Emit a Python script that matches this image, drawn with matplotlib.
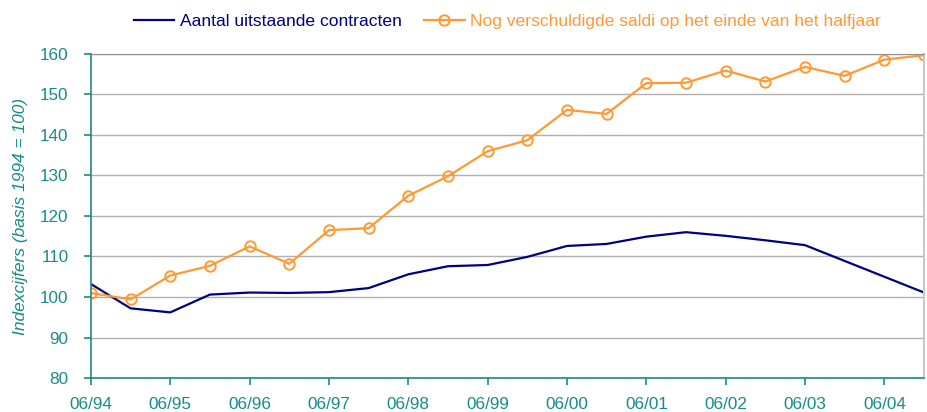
import matplotlib.pyplot as plt
import numpy as np

plt.rcParams['font.family'] = ['Liberation Sans', 'DejaVu Sans']

# half-yearly observations 06/94 .. 12/04
periods = ['06/94', '12/94', '06/95', '12/95', '06/96', '12/96', '06/97', '12/97',
           '06/98', '12/98', '06/99', '12/99', '06/00', '12/00', '06/01', '12/01',
           '06/02', '12/02', '06/03', '12/03', '06/04', '12/04']

contracten = [103.2, 97.2, 96.2, 100.6, 101.1, 101.0, 101.2, 102.2,
              105.6, 107.6, 107.9, 109.9, 112.6, 113.1, 114.9, 116.0,
              115.1, 114.0, 112.8, 108.9, 105.0, 101.1]

saldi = [101.0, 99.4, 105.3, 107.7, 112.5, 108.2, 116.5, 117.0,
         125.0, 129.8, 136.0, 138.7, 146.2, 145.2, 152.8, 152.9,
         155.9, 153.2, 156.8, 154.6, 158.6, 159.7]

teal = '#168b8b'
navy = '#000080'
orange = '#ff9933'

x = np.arange(len(periods))

fig = plt.figure(figsize=(9.28, 4.12), dpi=100)
ax = fig.add_axes([0.098, 0.0825, 0.8977, 0.7865])

ax.plot(x, contracten, color=navy, lw=1.6, label='Aantal uitstaande contracten')
ax.plot(x, saldi, color=orange, lw=1.6, marker='o', ms=7.5, mfc='none', mew=1.4,
        label='Nog verschuldigde saldi op het einde van het halfjaar')

ax.set_xlim(0, len(periods) - 1)
ax.set_ylim(80, 160)
ax.set_yticks(range(80, 161, 10))
ax.set_xticks(x[::2])
ax.set_xticklabels(periods[::2])

ax.grid(axis='y', color='#b0b0b0', lw=1.0)
ax.set_axisbelow(True)

for s in ['left', 'bottom']:
    ax.spines[s].set_color(teal)
    ax.spines[s].set_linewidth(1.2)
ax.spines['top'].set_color('#909090')
ax.spines['right'].set_color('#c8c8c8')
ax.spines['right'].set_linewidth(1.5)

ax.tick_params(colors=teal, labelsize=12.3, length=5, width=1.2)
ax.tick_params(axis='x', pad=8.5)
ax.tick_params(axis='y', pad=11)

ax.set_ylabel('Indexcijfers (basis 1994 = 100)', color=teal, fontsize=12.5,
              style='italic', labelpad=9)

leg = ax.legend(loc='lower center', bbox_to_anchor=(0.5, 1.055), ncol=2,
                frameon=False, fontsize=12.6, handlelength=2.3, columnspacing=1.3,
                handletextpad=0.3, borderaxespad=0)
for txt, c in zip(leg.get_texts(), [navy, orange]):
    txt.set_color(c)

fig.savefig('out.png', dpi=100)
